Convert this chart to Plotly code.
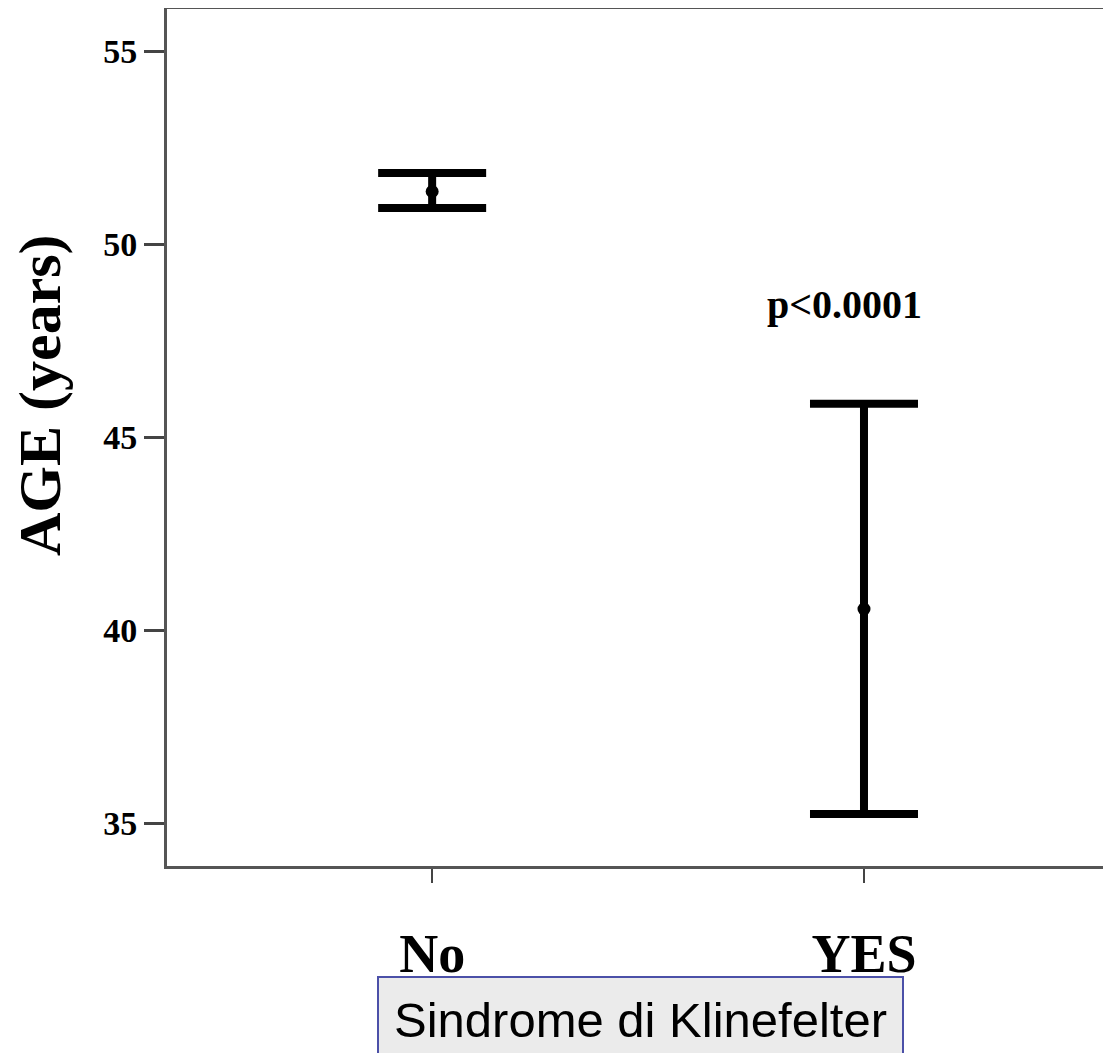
import plotly.graph_objects as go

# ---- data ----
groups = ["No", "YES"]
group_pos = [0, 1]
means = [51.37, 40.55]
upper = [51.85, 45.87]
lower = [50.94, 35.24]
y_ticks = [35, 40, 45, 50, 55]
p_text = "p<0.0001"
p_pos = (0.956, 48.43)
y_title = "AGE (years)"
x_title = "Sindrome di Klinefelter"

# page body has an 8px default margin; size the figure so it fills the window
OFF = 8
W, H = 1111 - OFF, 1053 - OFF
L, R, T, B = 167 - OFF, 0, 9 - OFF, 187
pw, ph = W - L - R, H - T - B

def px_x(px):  # reference-window pixel -> paper x
    return (px - OFF - L) / pw

def px_y(py):  # reference-window pixel -> paper y
    return (H - B - (py - OFF)) / ph

serif = "Liberation Serif, Times New Roman, serif"
sans = "Liberation Sans, Arial, sans-serif"

fig = go.Figure()
fig.add_trace(go.Scatter(
    x=group_pos, y=means, mode="markers",
    marker=dict(color="black", size=13),
    error_y=dict(
        type="data", symmetric=False,
        array=[u - m for u, m in zip(upper, means)],
        arrayminus=[m - l for m, l in zip(means, lower)],
        color="black", thickness=8, width=54,
    ),
    showlegend=False, hoverinfo="skip",
))

fig.update_layout(
    width=W, height=H,
    margin=dict(l=L, r=R, t=T, b=B, pad=0, autoexpand=False),
    plot_bgcolor="white", paper_bgcolor="white",
    xaxis=dict(
        range=[-0.614, 1.572], tickvals=group_pos, ticktext=groups,
        ticks="outside", ticklen=14, tickwidth=2, tickcolor="#444",
        showline=True, linecolor="#555", linewidth=3, mirror=True,
        showgrid=False, zeroline=False, automargin=False,
        tickfont=dict(family=serif, size=54, color="black", weight="bold"),
        ticklabelstandoff=24,
    ),
    yaxis=dict(
        range=[33.89, 56.1], tickvals=y_ticks,
        ticks="outside", ticklen=20, tickwidth=3, tickcolor="#444",
        showline=True, linecolor="#555", linewidth=3, mirror=False,
        showgrid=False, zeroline=False, automargin=False,
        tickfont=dict(family=serif, size=34, color="black", weight="bold"),
        ticklabelstandoff=0,
    ),
)

fig.add_annotation(
    x=p_pos[0], y=p_pos[1], xref="x", yref="y", text=p_text, showarrow=False,
    font=dict(family=serif, size=40, color="black", weight="bold"),
    xanchor="center", yanchor="middle",
)

fig.add_annotation(
    x=px_x(40), y=px_y(395), xref="paper", yref="paper", text=y_title,
    showarrow=False, textangle=-90,
    font=dict(family=serif, size=60, color="black", weight="bold"),
    xanchor="center", yanchor="middle",
)

fig.add_shape(
    type="rect", xref="paper", yref="paper",
    x0=px_x(378), x1=px_x(903), y0=px_y(1080), y1=px_y(977),
    fillcolor="#EBEBEB", line=dict(color="#4B50A8", width=2), layer="above",
)
fig.add_annotation(
    x=px_x(640), y=px_y(1020), xref="paper", yref="paper", text=x_title,
    showarrow=False,
    font=dict(family=sans, size=49, color="black"),
    xanchor="center", yanchor="middle",
)

fig.write_html("out.html")
